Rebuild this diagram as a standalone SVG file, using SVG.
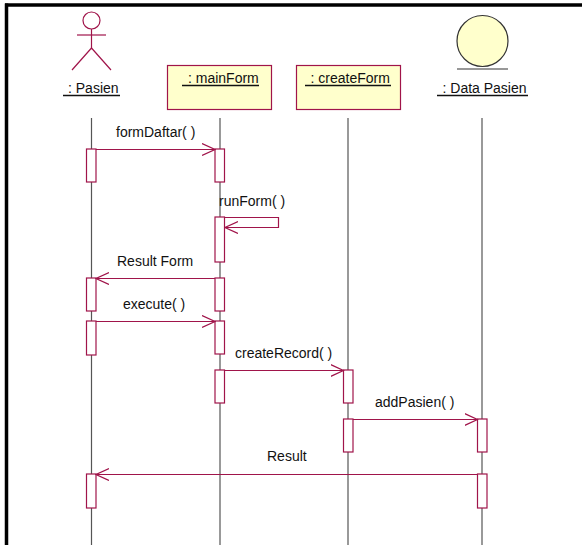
<svg xmlns="http://www.w3.org/2000/svg" width="582" height="545" viewBox="0 0 582 545">
<style>
text{font-family:"Liberation Sans",Arial,sans-serif;font-size:14px;fill:#111}
.ul{stroke:#111;stroke-width:1.3}
.life{stroke:#555;stroke-width:1.2}
.act{fill:#fff;stroke:#A0144A;stroke-width:1.2}
.msg{stroke:#A0144A;stroke-width:1.2;fill:none}
.obj{fill:#FFFFCC;stroke:#A0144A;stroke-width:1.2}
</style>
<defs>
<marker id="open" markerWidth="14" markerHeight="14" refX="13" refY="6.5" orient="auto" markerUnits="userSpaceOnUse">
<path d="M0,0.5 L13,6.5 L0,12.5" fill="none" stroke="#A0144A" stroke-width="1.2"/>
</marker>
</defs>
<rect width="582" height="545" fill="#fff"/>
<g id="frame">
<line x1="5" y1="5" x2="582" y2="5" stroke="#000" stroke-width="3.5"/>
<line x1="6.5" y1="3.5" x2="6.5" y2="545" stroke="#000" stroke-width="3.5"/>
</g>
<g id="lifelines">
<line class="life" x1="91.5" y1="118" x2="91.5" y2="545"/>
<line class="life" x1="220" y1="118" x2="220" y2="545"/>
<line class="life" x1="348" y1="118" x2="348" y2="545"/>
<line class="life" x1="482" y1="118" x2="482" y2="545"/>
</g>
<g id="pasien">
<circle cx="91.5" cy="20.5" r="8.5" fill="none" stroke="#A0144A" stroke-width="1.2"/>
<line x1="77" y1="35" x2="106" y2="35" stroke="#A0144A" stroke-width="1.2"/>
<line x1="91.5" y1="29" x2="91.5" y2="48" stroke="#A0144A" stroke-width="1.2"/>
<polyline points="72,70 91.5,48 111,70" fill="none" stroke="#A0144A" stroke-width="1.2"/>
<text x="68" y="93">: Pasien</text>
<line class="ul" x1="63" y1="95.5" x2="120" y2="95.5"/>
</g>
<g id="mainForm">
<rect class="obj" x="167.5" y="65.5" width="104" height="44"/>
<text x="188" y="83">: mainForm</text>
<line class="ul" x1="182" y1="85.5" x2="259" y2="85.5"/>
</g>
<g id="createForm">
<rect class="obj" x="296.5" y="65.5" width="104" height="44"/>
<text x="310.5" y="83">: createForm</text>
<line class="ul" x1="305" y1="85.5" x2="391" y2="85.5"/>
</g>
<g id="dataPasien">
<circle cx="482.5" cy="41" r="25.5" fill="#FFFFCC" stroke="#333" stroke-width="1.2"/>
<line x1="457" y1="69" x2="508" y2="69" stroke="#333" stroke-width="1.2"/>
<text x="442.5" y="93">: Data Pasien</text>
<line class="ul" x1="437" y1="95.5" x2="528" y2="95.5"/>
</g>
<g id="activations">
<rect class="act" x="86.5" y="149" width="9.5" height="33"/>
<rect class="act" x="215" y="149" width="9.5" height="33"/>
<rect class="act" x="215" y="217" width="9.5" height="45"/>
<rect class="act" x="86.5" y="278" width="9.5" height="33"/>
<rect class="act" x="215" y="278" width="9.5" height="33"/>
<rect class="act" x="86.5" y="321" width="9.5" height="34"/>
<rect class="act" x="215" y="321" width="9.5" height="33"/>
<rect class="act" x="215" y="370" width="9.5" height="33"/>
<rect class="act" x="343.5" y="370" width="9.5" height="33"/>
<rect class="act" x="343.5" y="419" width="9.5" height="33"/>
<rect class="act" x="477.5" y="419" width="9.5" height="33"/>
<rect class="act" x="86.5" y="474" width="9.5" height="34"/>
<rect class="act" x="477.5" y="474" width="9.5" height="34"/>
</g>
<g id="connectors">
<line class="msg" x1="96" y1="149.5" x2="215" y2="149.5" marker-end="url(#open)"/>
<polyline class="msg" points="224.5,217.5 278.5,217.5 278.5,227.5 225,227.5" marker-end="url(#open)"/>
<line class="msg" x1="215" y1="278.5" x2="96" y2="278.5" marker-end="url(#open)"/>
<line class="msg" x1="96" y1="321.5" x2="215" y2="321.5" marker-end="url(#open)"/>
<line class="msg" x1="224.5" y1="370.5" x2="343.5" y2="370.5" marker-end="url(#open)"/>
<line class="msg" x1="353" y1="419.5" x2="477.5" y2="419.5" marker-end="url(#open)"/>
<line class="msg" x1="477.5" y1="474.5" x2="96" y2="474.5" marker-end="url(#open)"/>
</g>
<g id="labels">
<text x="116" y="137">formDaftar( )</text>
<text x="219" y="206">runForm( )</text>
<text x="117" y="266">Result Form</text>
<text x="123" y="309">execute( )</text>
<text x="235" y="358">createRecord( )</text>
<text x="375" y="407">addPasien( )</text>
<text x="267" y="461">Result</text>
</g>
</svg>
